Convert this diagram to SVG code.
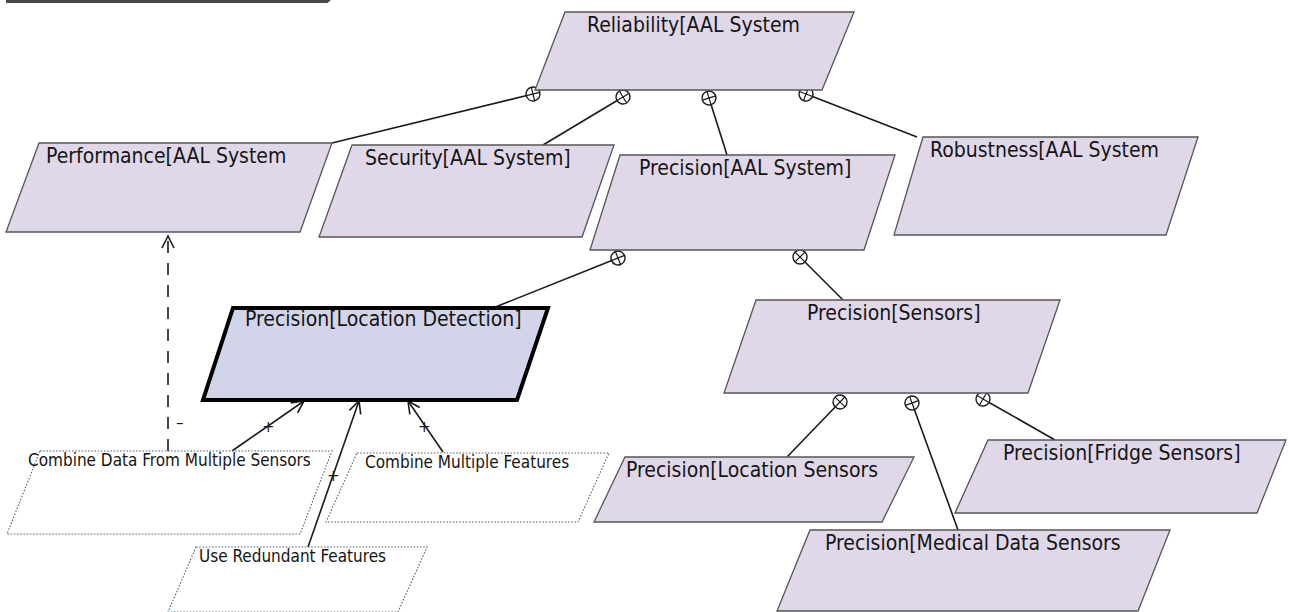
<svg xmlns="http://www.w3.org/2000/svg" width="1289" height="612" viewBox="0 0 1289 612">
<style>
.n{fill:#e0d8e9;stroke:#555;stroke-width:1.3}
.ld{fill:#d2d5ea;stroke:#000;stroke-width:4;stroke-linejoin:miter}
.op{fill:#fff;stroke:#4d6878;stroke-width:1.1;stroke-dasharray:1.6 1.6}
.t{font-family:"DejaVu Sans Condensed","DejaVu Sans",sans-serif;font-stretch:condensed;font-size:21px;fill:#151515}
.ts{font-family:"DejaVu Sans Condensed","DejaVu Sans",sans-serif;font-stretch:condensed;font-size:17px;fill:#151515}
.l{fill:none;stroke:#1a1a1a;stroke-width:1.6}
.c{fill:#fff;stroke:#1a1a1a;stroke-width:1.4}
.lab{font-family:"DejaVu Sans",sans-serif;font-size:15px;fill:#1a1a1a}
</style>
<defs>
<marker id="arr" markerUnits="userSpaceOnUse" markerWidth="16" markerHeight="16" refX="13" refY="7" orient="auto">
<path d="M1,1 L13,7 L1,13" fill="none" stroke="#1a1a1a" stroke-width="1.6"/>
</marker>
<g id="dec"><circle class="c" r="7"/><path d="M-7,0 H7 M0,-7 V7" stroke="#1a1a1a" stroke-width="1.2"/></g>
</defs>
<path d="M6,1.5 L327,1.5 L331,-2" fill="none" stroke="#4a4a4a" stroke-width="3"/>
<g id="connectors">
<line class="l" x1="332" y1="143" x2="533" y2="94"/>
<line class="l" x1="543" y1="145" x2="623" y2="97"/>
<line class="l" x1="727" y1="155" x2="709" y2="98"/>
<line class="l" x1="917" y1="137" x2="806" y2="94"/>
<line class="l" x1="493" y1="308" x2="618" y2="258"/>
<line class="l" x1="843" y1="300" x2="800" y2="257"/>
<line class="l" x1="787" y1="457" x2="840" y2="402"/>
<line class="l" x1="958" y1="530" x2="912" y2="403"/>
<line class="l" x1="1055" y1="440" x2="983" y2="399"/>
<use href="#dec" transform="translate(533,94) rotate(-14)"/>
<use href="#dec" transform="translate(623,97) rotate(-31)"/>
<use href="#dec" transform="translate(709,98) rotate(72)"/>
<use href="#dec" transform="translate(806,94) rotate(21)"/>
<use href="#dec" transform="translate(618,258) rotate(-22)"/>
<use href="#dec" transform="translate(800,257) rotate(45)"/>
<use href="#dec" transform="translate(840,402) rotate(-46)"/>
<use href="#dec" transform="translate(912,403) rotate(70)"/>
<use href="#dec" transform="translate(983,399) rotate(30)"/>
<line class="l" x1="168" y1="451" x2="168" y2="236" stroke-dasharray="12 10" marker-end="url(#arr)"/>
<line class="l" x1="232" y1="451" x2="304" y2="401" marker-end="url(#arr)"/>
<line class="l" x1="308" y1="547" x2="359" y2="401" marker-end="url(#arr)"/>
<line class="l" x1="443" y1="452" x2="408" y2="401" marker-end="url(#arr)"/>
<text class="lab" x="176" y="428">–</text>
<text class="lab" x="262" y="432">+</text>
<text class="lab" x="327" y="481">+</text>
<text class="lab" x="418" y="432">+</text>
</g>
<g id="reliability"><polygon class="n" points="565,12 854,12 822,90 535,90"/><text class="t" x="587" y="32">Reliability[AAL System</text></g>
<g id="performance"><polygon class="n" points="39,143 332,143 300,232 6,232"/><text class="t" x="46" y="163">Performance[AAL System</text></g>
<g id="security"><polygon class="n" points="352,145 614,145 582,237 319,237"/><text class="t" x="365" y="165">Security[AAL System]</text></g>
<g id="precision-aal"><polygon class="n" points="620,155 895,155 864,250 590,250"/><text class="t" x="639" y="175">Precision[AAL System]</text></g>
<g id="robustness"><polygon class="n" points="923,137 1198,137 1166,235 894,235"/><text class="t" x="930" y="157">Robustness[AAL System</text></g>
<g id="precision-location-detection"><polygon class="ld" points="233,308 548,308 517,400 203,400"/><text class="t" x="245" y="326">Precision[Location Detection]</text></g>
<g id="precision-sensors"><polygon class="n" points="756,300 1060,300 1028,393 724,393"/><text class="t" x="807" y="320">Precision[Sensors]</text></g>
<g id="precision-location-sensors"><polygon class="n" points="625,457 914,457 882,522 594,522"/><text class="t" x="626" y="477">Precision[Location Sensors</text></g>
<g id="precision-fridge-sensors"><polygon class="n" points="988,440 1286,440 1257,513 955,513"/><text class="t" x="1003" y="460">Precision[Fridge Sensors]</text></g>
<g id="precision-medical-data-sensors"><polygon class="n" points="810,530 1170,530 1138,611 777,611"/><text class="t" x="825" y="550">Precision[Medical Data Sensors</text></g>
<g id="combine-data"><polygon class="op" points="40,451 332,451 300,534 7,534"/><text class="ts" x="28" y="466">Combine Data From Multiple Sensors</text></g>
<g id="combine-features"><polygon class="op" points="357,453 609,453 578,522 326,522"/><text class="ts" x="365" y="468">Combine Multiple Features</text></g>
<g id="use-redundant"><polygon class="op" points="196,547 427,547 398,612 168,612"/><text class="ts" x="199" y="562">Use Redundant Features</text></g>
</svg>
